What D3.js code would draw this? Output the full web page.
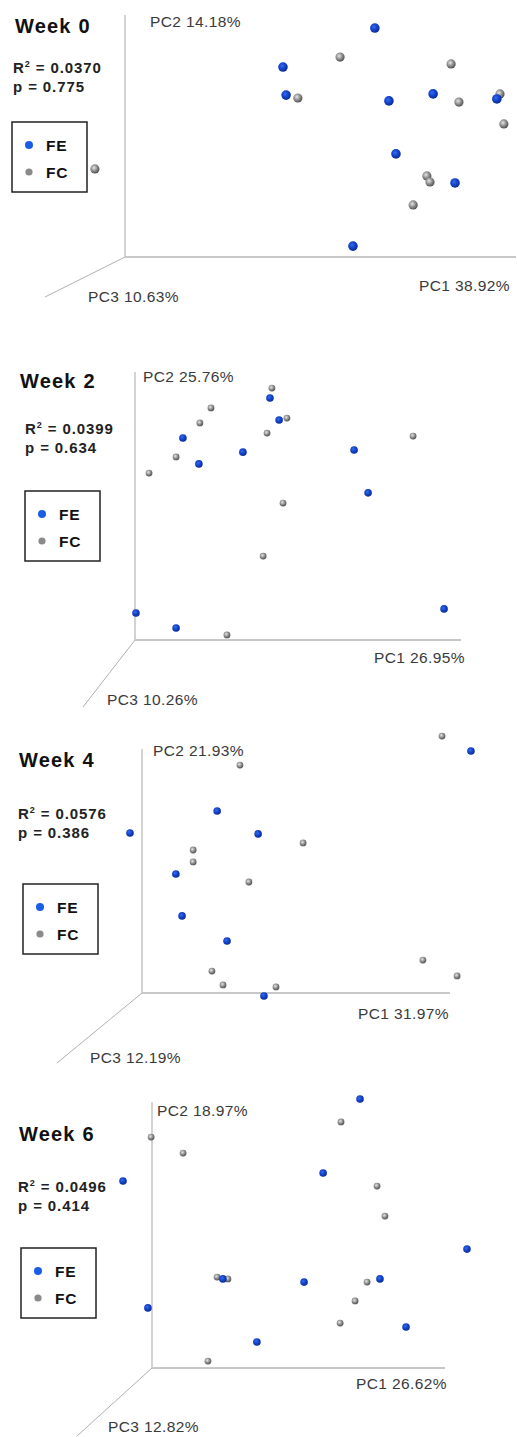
<!DOCTYPE html>
<html><head><meta charset="utf-8">
<script src="https://cdn.jsdelivr.net/npm/d3@7"></script>
<style>body{margin:0;background:#fff}svg{display:block}</style>
</head><body>
<svg id="chart" width="517" height="1437"></svg>
<script>
// ---------- DATA ----------
const weeks = ["Week 0", "Week 2", "Week 4", "Week 6"];
const groups = ["FE", "FC"];
const pc1Labels = ["PC1 38.92%", "PC1 26.95%", "PC1 31.97%", "PC1 26.62%"];
const pc2Labels = ["PC2 14.18%", "PC2 25.76%", "PC2 21.93%", "PC2 18.97%"];
const pc3Labels = ["PC3 10.63%", "PC3 10.26%", "PC3 12.19%", "PC3 12.82%"];
const r2Values = ["0.0370", "0.0399", "0.0576", "0.0496"];
const pValues = ["0.775", "0.634", "0.386", "0.414"];

// [PC1, PC2] projected scores (scaled 0-100 along drawn axes)
const week0FE = [[63.9,94.6],[40.4,78.5],[41.2,66.9],[67.5,64.5],[78.8,67.4],[95.1,65.3],[69.3,42.6],[84.4,30.6],[58.3,4.5]];
const week0FC = [[55.0,82.6],[44.2,65.7],[83.4,79.8],[85.4,64.0],[95.9,67.4],[96.9,55.0],[77.2,33.5],[78.0,31.0],[73.7,21.5],[-7.7,36.4]];
const week2FE = [[14.7,75.4],[19.6,65.7],[33.1,70.1],[0.3,10.1],[12.6,4.5],[41.4,90.3],[44.2,82.1],[67.2,70.9],[71.5,54.9],[94.8,11.6]];
const week2FC = [[23.3,86.6],[19.9,81.0],[12.6,68.3],[4.3,62.3],[28.2,1.9],[42.0,94.0],[46.6,82.8],[40.5,77.2],[85.3,76.1],[45.4,51.1],[39.3,31.3]];
const week4FE = [[-3.9,65.6],[24.4,74.6],[11.0,48.8],[13.0,31.6],[27.6,21.3],[37.7,65.2],[106.8,99.2],[39.6,-1.2]];
const week4FC = [[31.8,93.4],[16.6,58.6],[16.6,53.7],[34.7,45.5],[22.7,9.0],[26.3,3.3],[97.4,105.3],[52.3,61.5],[91.2,13.5],[102.3,7.0],[43.5,2.5]];
const week6FE = [[-9.9,70.3],[24.2,33.5],[-1.4,22.6],[35.8,9.8],[71.0,101.1],[58.4,73.3],[107.5,44.7],[51.9,32.3],[77.8,33.5],[86.7,15.4]];
const week6FC = [[-0.3,86.8],[10.6,80.8],[22.2,34.2],[25.9,33.5],[19.1,2.6],[64.5,92.5],[76.8,68.4],[79.5,57.1],[73.4,32.3],[69.3,25.2],[64.2,16.9]];
const feSeries = [week0FE, week2FE, week4FE, week6FE];
const fcSeries = [week0FC, week2FC, week4FC, week6FC];

// ---------- LAYOUT ----------
const layout = [
  {ox:125, oy:257, xEnd:516, yTop:15,  dx:45, dy:297, title:[15,33], stats:[13,73], legend:[12,122], rFE:4.8, rFC:4.6,
   pc2:[150,27], pc1:[510,291], pc3:[88,302]},
  {ox:135, oy:640, xEnd:461, yTop:372, dx:83, dy:707, title:[20,388], stats:[25,434], legend:[25,491], rFE:3.8, rFC:3.4,
   pc2:[143,382], pc1:[465,663], pc3:[107,705]},
  {ox:142, oy:993, xEnd:450, yTop:749, dx:57, dy:1063, title:[19,767], stats:[18,819], legend:[23,884], rFE:3.8, rFC:3.4,
   pc2:[153,756], pc1:[449,1019], pc3:[90,1063]},
  {ox:152, oy:1368, xEnd:445, yTop:1102, dx:77, dy:1436, title:[19,1141], stats:[18,1192], legend:[21,1248], rFE:3.8, rFC:3.4,
   pc2:[157,1116], pc1:[447,1389], pc3:[108,1432]}
];

const svg = d3.select("#chart");
const defs = svg.append("defs");
function sphere(id, c0, c1, c2){
  const g = defs.append("radialGradient").attr("id", id).attr("cx","40%").attr("cy","38%").attr("r","65%");
  g.append("stop").attr("offset","0%").attr("stop-color",c0);
  g.append("stop").attr("offset","45%").attr("stop-color",c1);
  g.append("stop").attr("offset","100%").attr("stop-color",c2);
}
sphere("gFE", "#3a6cf0", "#1446d0", "#0a2a90");
sphere("gFC", "#e6e6e6", "#9a9a9a", "#4a4a4a");

const font = "Liberation Sans, Arial, Helvetica, sans-serif";

weeks.forEach((wk, i) => {
  const L = layout[i];
  const g = svg.append("g");
  const x = d3.scaleLinear().domain([0,100]).range([L.ox, L.xEnd]);
  const y = d3.scaleLinear().domain([0,100]).range([L.oy, L.yTop]);

  // axes
  g.append("line").attr("x1",x(0)).attr("y1",y(0)).attr("x2",x(0)).attr("y2",y(100))
    .attr("stroke","#c4c4c4").attr("stroke-width",1.5);
  g.append("line").attr("x1",x(0)).attr("y1",y(0)).attr("x2",x(100)).attr("y2",y(0))
    .attr("stroke","#c8c8c8").attr("stroke-width",2);
  g.append("line").attr("x1",x(0)).attr("y1",y(0)).attr("x2",L.dx).attr("y2",L.dy)
    .attr("stroke","#b0b0b0").attr("stroke-width",1);

  // axis labels
  const ax = sel => sel.attr("font-family",font).attr("font-size",15.5).attr("letter-spacing",0.4).attr("fill","#3a3a3a");
  g.append("text").attr("x", L.pc2[0]).attr("y", L.pc2[1]).text(pc2Labels[i]).call(ax);
  g.append("text").attr("x", L.pc1[0]).attr("y", L.pc1[1]).attr("text-anchor","end").text(pc1Labels[i]).call(ax);
  g.append("text").attr("x", L.pc3[0]).attr("y", L.pc3[1]).text(pc3Labels[i]).call(ax);

  // title & stats
  g.append("text").attr("x",L.title[0]).attr("y",L.title[1]).text(wk)
    .attr("font-family",font).attr("font-size",20).attr("letter-spacing",1.2).attr("font-weight","bold").attr("fill","#111");
  const st = g.append("text").attr("x",L.stats[0]).attr("y",L.stats[1])
    .attr("font-family",font).attr("font-size",15).attr("letter-spacing",0.9).attr("font-weight","bold").attr("fill","#222");
  st.append("tspan").text("R");
  st.append("tspan").text("2").attr("font-size",9).attr("dy",-6);
  st.append("tspan").text(" = " + r2Values[i]).attr("dy",6);
  g.append("text").attr("x",L.stats[0]).attr("y",L.stats[1]+19).text("p = " + pValues[i])
    .attr("font-family",font).attr("font-size",15).attr("letter-spacing",0.9).attr("font-weight","bold").attr("fill","#222");

  // legend
  const lg = g.append("g").attr("transform",`translate(${L.legend[0]},${L.legend[1]})`);
  lg.append("rect").attr("width",75).attr("height",70).attr("fill","#fff").attr("stroke","#222").attr("stroke-width",1.5);
  groups.forEach((grp, k) => {
    lg.append("circle").attr("cx",17).attr("cy",23+k*27).attr("r", k===0?4:3.6)
      .attr("fill", k===0 ? "#1a5ee6" : "#8a8a8a");
    lg.append("text").attr("x",34).attr("y",29+k*27).text(grp)
      .attr("font-family",font).attr("font-size",15.5).attr("letter-spacing",0.8).attr("font-weight","bold").attr("fill","#111");
  });

  // points
  g.append("g").selectAll("circle").data(fcSeries[i]).join("circle")
    .attr("cx", d => x(d[0])).attr("cy", d => y(d[1])).attr("r", L.rFC)
    .attr("fill","url(#gFC)");
  g.append("g").selectAll("circle").data(feSeries[i]).join("circle")
    .attr("cx", d => x(d[0])).attr("cy", d => y(d[1])).attr("r", L.rFE)
    .attr("fill","url(#gFE)");
});
</script>
</body></html>
